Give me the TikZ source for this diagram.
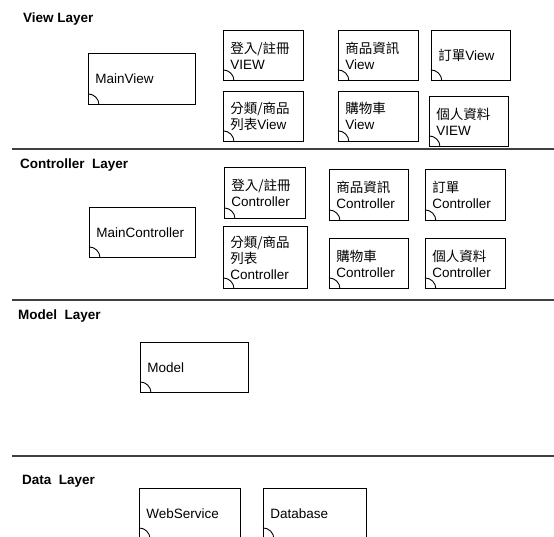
\documentclass[tikz,border=0pt]{standalone}
\usepackage{fontspec}
\setmainfont{Liberation Sans}
\newfontfamily\cjk{Noto Sans CJK TC}
\usetikzlibrary{positioning}

\begin{document}
\begin{tikzpicture}[
    x=1pt, y=1pt,
    font=\fontsize{13.5}{16}\selectfont,
    layertitle/.style={anchor=west, inner sep=0pt, font=\fontsize{13.5}{16}\selectfont\bfseries},
    unit/.style={rectangle, draw, line width=0.9pt, align=left, inner xsep=7pt, inner ysep=2pt, minimum height=50pt, anchor=north west},
    separator/.style={line width=1.6pt, draw=black!75}
]
\useasboundingbox (0,0) rectangle (554,-536);

% View Layer
\node[layertitle] (viewtitle) at (23,-19) {View Layer};
\node[unit, text width=93pt, minimum height=51pt] (mainview) at (88,-53) {MainView};
\node[unit, text width=66pt] (loginview) at (223,-30) {{\cjk 登入/註冊}\\VIEW};
\node[unit, text width=66pt, below=10pt of loginview.south west, anchor=north west] (listview) {{\cjk 分類/商品}\\{\cjk 列表}View};
\node[unit, text width=66pt, right=34pt of loginview] (infoview) {{\cjk 商品資訊}\\View};
\node[unit, text width=66pt, right=34pt of listview] (cartview) {{\cjk 購物車}\\View};
\node[unit, text width=65pt, right=12pt of infoview] (orderview) {{\cjk 訂單}View};
\node[unit, text width=65pt] (profileview) at (429,-96) {{\cjk 個人資料}\\VIEW};

\draw[separator] (12,-149) -- (554,-149);

% Controller Layer
\node[layertitle] (controllertitle) at (20,-165) {Controller\ \ Layer};
\node[unit, text width=92pt] (maincontroller) at (89,-207) {MainController};
\node[unit, text width=67pt, minimum height=51pt] (logincontroller) at (224,-167) {{\cjk 登入/註冊}\\Controller};
\node[unit, text width=70pt, minimum height=62pt] (listcontroller) at (223,-226) {{\cjk 分類/商品}\\{\cjk 列表}\\Controller};
\node[unit, text width=65pt, minimum height=51pt] (infocontroller) at (329,-169) {{\cjk 商品資訊}\\Controller};
\node[unit, text width=66pt, minimum height=51pt, right=16pt of infocontroller] (ordercontroller) {{\cjk 訂單}\\Controller};
\node[unit, text width=65pt] (cartcontroller) at (329,-238) {{\cjk 購物車}\\Controller};
\node[unit, text width=66pt, right=16pt of cartcontroller] (profilecontroller) {{\cjk 個人資料}\\Controller};

\draw[separator] (12,-300) -- (554,-300);

% Model Layer
\node[layertitle] (modeltitle) at (18,-316) {Model\ \ Layer};
\node[unit, text width=94pt] (model) at (140,-342) {Model};

\draw[separator] (12,-456) -- (554,-456);

% Data Layer
\node[layertitle] (datatitle) at (22,-481) {Data\ \ Layer};
\node[unit, text width=87pt] (webservice) at (139,-488) {WebService};
\node[unit, text width=89pt, right=22pt of webservice] (database) {Database};

% corner marks
\foreach \n in {mainview, loginview, listview, infoview, cartview, orderview, profileview,
    maincontroller, logincontroller, listcontroller, infocontroller, ordercontroller,
    cartcontroller, profilecontroller, model, webservice, database}
    \draw[line width=0.9pt] ([yshift=11pt]\n.south west) arc[start angle=90, end angle=0, radius=11pt];

\end{tikzpicture}
\end{document}
